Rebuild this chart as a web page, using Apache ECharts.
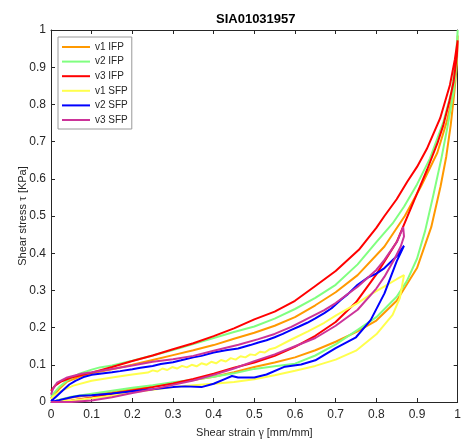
<!DOCTYPE html>
<html>
<head>
<meta charset="utf-8">
<title>SIA01031957</title>
<script src="https://cdn.jsdelivr.net/npm/echarts@6/dist/echarts.min.js"></script>
<style>
  html, body { margin: 0; padding: 0; background: #ffffff; }
  #chart { width: 464px; height: 445px; }
</style>
</head>
<body>
<div id="chart"></div>
<script>
// Shear stress-strain loops, each traced loading branch then unloading branch.
const chartTitle = 'SIA01031957';
const seriesNames = ['v1 IFP', 'v2 IFP', 'v3 IFP', 'v1 SFP', 'v2 SFP', 'v3 SFP'];
const seriesColors = ['#ff9900', '#80ff80', '#ff0000', '#ffff4d', '#0000ff', '#cc3399'];
const tickValues = [0, 0.1, 0.2, 0.3, 0.4, 0.5, 0.6, 0.7, 0.8, 0.9, 1];

// [strain, stress] pairs
const v1Ifp = [
  [0, 0], [0.05, 0.012], [0.1, 0.019], [0.15, 0.026], [0.2, 0.034], [0.25, 0.042], [0.3, 0.05],
  [0.35, 0.059], [0.4, 0.068], [0.45, 0.08], [0.5, 0.094], [0.55, 0.106], [0.6, 0.12],
  [0.65, 0.139], [0.7, 0.162], [0.75, 0.188], [0.8, 0.219], [0.85, 0.272], [0.9, 0.36],
  [0.935, 0.47], [0.958, 0.58], [0.972, 0.66], [0.983, 0.745], [0.992, 0.834], [0.998, 0.906],
  [1.0, 0.985],
  [0.998, 0.924], [0.99, 0.834], [0.973, 0.753], [0.95, 0.67], [0.91, 0.58], [0.87, 0.5],
  [0.82, 0.418], [0.754, 0.341], [0.7, 0.295], [0.65, 0.26], [0.6, 0.228], [0.55, 0.205],
  [0.5, 0.186], [0.45, 0.17], [0.4, 0.153], [0.35, 0.139], [0.3, 0.126], [0.25, 0.113],
  [0.2, 0.1], [0.15, 0.088], [0.1, 0.077], [0.07, 0.068], [0.04, 0.055], [0.02, 0.035], [0, 0.01]
];

const v2Ifp = [
  [0, 0], [0.05, 0.014], [0.1, 0.022], [0.15, 0.03], [0.2, 0.038], [0.25, 0.045], [0.3, 0.053],
  [0.35, 0.06], [0.4, 0.068], [0.45, 0.077], [0.5, 0.089], [0.55, 0.096], [0.6, 0.103],
  [0.65, 0.125], [0.7, 0.155], [0.754, 0.194], [0.8, 0.228], [0.85, 0.283], [0.875, 0.325],
  [0.9, 0.385], [0.92, 0.46], [0.94, 0.555], [0.96, 0.655], [0.975, 0.74], [0.99, 0.834],
  [0.998, 0.924], [1.0, 1.0],
  [0.996, 0.924], [0.985, 0.834], [0.965, 0.753], [0.932, 0.655], [0.9, 0.585], [0.868, 0.525],
  [0.84, 0.48], [0.8, 0.43], [0.754, 0.37], [0.7, 0.315], [0.65, 0.28], [0.6, 0.25],
  [0.55, 0.224], [0.5, 0.203], [0.45, 0.188], [0.4, 0.172], [0.35, 0.156], [0.3, 0.14],
  [0.25, 0.125], [0.2, 0.111], [0.15, 0.098], [0.12, 0.093], [0.1, 0.087], [0.07, 0.076],
  [0.04, 0.058], [0.02, 0.04], [0, 0.015]
];

const v3Ifp = [
  [0, 0], [0.05, 0.004], [0.1, 0.012], [0.15, 0.022], [0.2, 0.031], [0.25, 0.04], [0.3, 0.05],
  [0.35, 0.062], [0.4, 0.076], [0.45, 0.092], [0.5, 0.106], [0.55, 0.124], [0.6, 0.148],
  [0.65, 0.178], [0.7, 0.215], [0.75, 0.268], [0.8, 0.343], [0.85, 0.43], [0.875, 0.495],
  [0.9, 0.56], [0.925, 0.625], [0.95, 0.695], [0.965, 0.745], [0.98, 0.81], [0.99, 0.861],
  [0.998, 0.93], [1.0, 0.972],
  [0.993, 0.92], [0.981, 0.852], [0.957, 0.763], [0.924, 0.68], [0.9, 0.632], [0.876, 0.592],
  [0.85, 0.545], [0.82, 0.5], [0.8, 0.468], [0.757, 0.409], [0.7, 0.352], [0.65, 0.312],
  [0.6, 0.272], [0.55, 0.243], [0.5, 0.222], [0.45, 0.198], [0.4, 0.177], [0.35, 0.158],
  [0.3, 0.142], [0.25, 0.125], [0.2, 0.11], [0.15, 0.094], [0.1, 0.079], [0.05, 0.066],
  [0.025, 0.055], [0.01, 0.044], [0, 0.03]
];

const v1Sfp = [
  [0, 0], [0.05, 0.004], [0.1, 0.01], [0.15, 0.017], [0.2, 0.026], [0.25, 0.033], [0.3, 0.04],
  [0.35, 0.045], [0.4, 0.049], [0.45, 0.054], [0.5, 0.061], [0.55, 0.072], [0.6, 0.084],
  [0.65, 0.097], [0.7, 0.114], [0.75, 0.138], [0.8, 0.182], [0.84, 0.234], [0.858, 0.28],
  [0.868, 0.341],
  [0.85, 0.33], [0.819, 0.31], [0.78, 0.285], [0.754, 0.266], [0.7, 0.232], [0.672, 0.213],
  [0.632, 0.19], [0.591, 0.168], [0.55, 0.145],
  [0.538, 0.142], [0.526, 0.133], [0.514, 0.135], [0.502, 0.126], [0.49, 0.128], [0.478, 0.12],
  [0.466, 0.123], [0.454, 0.114], [0.442, 0.118], [0.43, 0.109], [0.418, 0.113], [0.406, 0.104],
  [0.394, 0.108], [0.382, 0.1], [0.37, 0.104], [0.358, 0.096], [0.346, 0.1], [0.334, 0.093],
  [0.322, 0.097], [0.31, 0.09], [0.298, 0.094], [0.286, 0.086], [0.274, 0.09], [0.262, 0.082],
  [0.25, 0.085], [0.238, 0.079],
  [0.2, 0.074], [0.15, 0.066], [0.1, 0.057], [0.055, 0.044], [0.025, 0.03], [0.005, 0.015], [0, 0.008]
];

const v2Sfp = [
  [0, 0], [0.02, 0.005], [0.05, 0.013], [0.07, 0.017], [0.1, 0.018], [0.15, 0.023], [0.2, 0.029],
  [0.25, 0.034], [0.3, 0.04], [0.33, 0.042], [0.37, 0.04], [0.4, 0.049], [0.43, 0.063],
  [0.445, 0.07], [0.46, 0.066], [0.5, 0.066], [0.53, 0.074], [0.575, 0.095], [0.615, 0.101],
  [0.65, 0.112], [0.7, 0.145], [0.75, 0.174], [0.786, 0.22], [0.82, 0.292], [0.85, 0.378],
  [0.868, 0.42],
  [0.85, 0.392], [0.82, 0.36], [0.8, 0.345], [0.78, 0.335], [0.754, 0.315], [0.73, 0.29],
  [0.713, 0.275], [0.69, 0.252], [0.672, 0.239], [0.65, 0.225], [0.63, 0.213], [0.61, 0.203],
  [0.591, 0.194], [0.57, 0.183], [0.55, 0.174], [0.53, 0.166], [0.51, 0.16], [0.49, 0.153],
  [0.46, 0.144], [0.43, 0.139], [0.4, 0.133], [0.37, 0.124], [0.35, 0.12], [0.32, 0.112],
  [0.3, 0.107], [0.27, 0.102], [0.25, 0.097], [0.22, 0.092], [0.2, 0.088], [0.17, 0.083],
  [0.15, 0.08], [0.12, 0.076], [0.1, 0.073], [0.08, 0.067], [0.06, 0.057], [0.045, 0.047],
  [0.03, 0.032], [0.015, 0.017], [0, 0.002]
];

const v3Sfp = [
  [0, 0], [0.05, 0.0], [0.1, 0.004], [0.15, 0.013], [0.2, 0.024], [0.25, 0.034], [0.3, 0.046],
  [0.35, 0.058], [0.4, 0.073], [0.45, 0.09], [0.5, 0.11], [0.55, 0.128], [0.6, 0.15],
  [0.65, 0.172], [0.7, 0.205], [0.754, 0.248], [0.8, 0.305], [0.82, 0.337], [0.845, 0.385],
  [0.86, 0.418], [0.868, 0.445], [0.866, 0.47],
  [0.851, 0.431], [0.82, 0.382], [0.8, 0.355], [0.754, 0.31], [0.7, 0.266], [0.672, 0.247],
  [0.632, 0.225], [0.591, 0.202], [0.55, 0.183], [0.51, 0.169], [0.461, 0.154], [0.4, 0.138],
  [0.35, 0.124], [0.3, 0.115], [0.25, 0.108], [0.2, 0.098], [0.15, 0.089], [0.1, 0.08],
  [0.075, 0.076], [0.04, 0.066], [0.015, 0.052], [0.005, 0.035], [0, 0.02]
];

const seriesData = [v1Ifp, v2Ifp, v3Ifp, v1Sfp, v2Sfp, v3Sfp];

const axisColor = '#262626';
const fontFamily = 'Liberation Sans, Arial, sans-serif';

function valueAxis(position, withLabels, extra) {
  return Object.assign({
    type: 'value',
    position: position,
    min: tickValues[0],
    max: tickValues[tickValues.length - 1],
    interval: tickValues[1] - tickValues[0],
    axisLine: { show: true, onZero: false, lineStyle: { color: axisColor, width: 1 } },
    axisTick: { show: true, inside: true, length: 4, lineStyle: { color: axisColor, width: 1 } },
    axisLabel: {
      show: withLabels,
      color: axisColor,
      fontSize: 12,
      fontFamily: fontFamily,
      formatter: v => String(+v.toFixed(1))
    },
    splitLine: { show: false }
  }, extra || {});
}

const chart = echarts.init(document.getElementById('chart'), null, { renderer: 'canvas' });

chart.setOption({
  animation: false,
  backgroundColor: '#ffffff',
  title: {
    text: chartTitle,
    left: 216,
    top: 13,
    padding: 0,
    textStyle: { fontFamily: fontFamily, fontSize: 13, fontWeight: 'bold', color: '#000000' }
  },
  legend: {
    orient: 'vertical',
    left: 58,
    top: 37,
    padding: [4, 4, 3, 4],
    icon: 'rect',
    itemWidth: 28,
    itemHeight: 2,
    itemGap: 2.6,
    backgroundColor: '#ffffff',
    borderColor: '#9a9a9a',
    borderWidth: 1,
    borderRadius: 0,
    textStyle: { fontFamily: fontFamily, fontSize: 10, color: axisColor, lineHeight: 12 },
    data: seriesNames
  },
  grid: { left: 51, right: 3, top: 30, bottom: 43, containLabel: false },
  xAxis: [
    valueAxis('bottom', true, {
      name: 'Shear strain {g|γ} [mm/mm]',
      nameLocation: 'middle',
      nameGap: 25,
      nameMoveOverlap: false,
      nameTextStyle: {
        fontFamily: fontFamily, fontSize: 11, color: axisColor,
        rich: { g: { fontFamily: 'Liberation Serif, serif', fontSize: 12, color: axisColor } }
      },
      axisLabel: {
        show: true, color: axisColor, fontSize: 12, fontFamily: fontFamily, margin: 7,
        formatter: v => String(+v.toFixed(1))
      }
    }),
    valueAxis('top', false)
  ],
  yAxis: [
    valueAxis('left', true, {
      name: 'Shear stress {g|τ} [KPa]',
      nameLocation: 'middle',
      nameGap: 22,
      nameMoveOverlap: false,
      nameTextStyle: {
        fontFamily: fontFamily, fontSize: 11, color: axisColor,
        rich: { g: { fontFamily: 'Liberation Serif, serif', fontSize: 12, color: axisColor } }
      },
      axisLabel: {
        show: true, color: axisColor, fontSize: 12, fontFamily: fontFamily, margin: 5,
        formatter: v => String(+v.toFixed(1))
      }
    }),
    valueAxis('right', false)
  ],
  series: seriesNames.map((name, i) => ({
    name: name,
    type: 'line',
    xAxisIndex: 0,
    yAxisIndex: 0,
    data: seriesData[i],
    symbol: 'none',
    smooth: false,
    clip: false,
    color: seriesColors[i],
    lineStyle: { color: seriesColors[i], width: 2 },
    z: 2 + i
  }))
});
</script>
</body>
</html>
